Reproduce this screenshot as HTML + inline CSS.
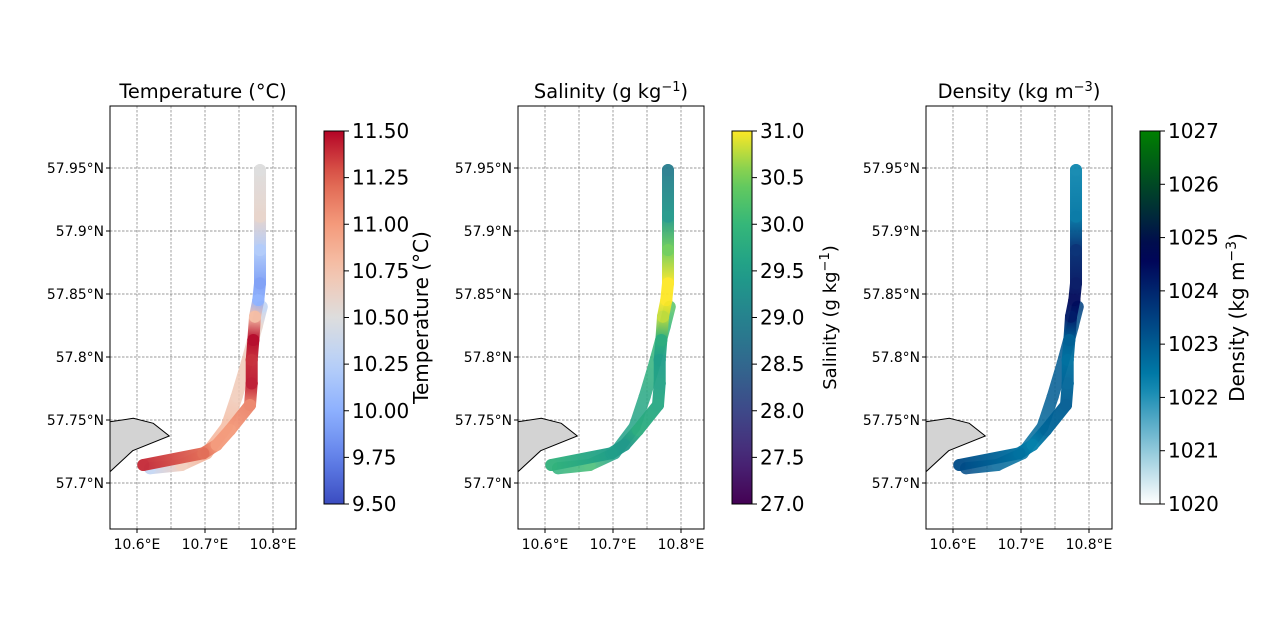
<!DOCTYPE html>
<html><head><meta charset="utf-8"><style>
body{margin:0;background:#fff;}
svg{display:block;font-family:"DejaVu Sans","Liberation Sans",sans-serif;}
</style></head><body>
<svg id="fig" width="1280" height="629" viewBox="0 0 1280 629"></svg>
<script>
// Track vertices (outbound leg A then return leg B)
const lonA=[10.6093,10.6975,10.7172,10.7368,10.7662,10.7687,10.7687,10.7711,10.7735,10.7784,10.7809,10.7809,10.7809,10.7809];
const latA=[57.7143,57.7236,57.7302,57.7421,57.7619,57.7791,57.7976,57.8135,57.8320,57.8452,57.8585,57.8849,57.9114,57.9484];
const lonB=[10.7834,10.7760,10.7613,10.7466,10.7319,10.7025,10.6657,10.6191];
const latB=[57.8399,57.8241,57.7950,57.7685,57.7447,57.7236,57.7143,57.7117];
const tempA=[11.4,11.2,11.0,11.0,11.1,11.45,11.4,11.5,10.8,10.0,9.9,10.2,10.6,10.5];
const tempB=[10.3,10.6,10.7,10.7,10.8,10.9,10.7,10.3];
const salA=[29.9,29.5,29.4,29.8,29.7,29.6,29.5,29.8,30.8,31.0,31.0,30.5,29.4,28.9];
const salB=[30.3,30.0,29.9,29.7,29.6,29.5,30.1,29.9];
const denA=[1023.3,1022.6,1022.3,1022.8,1023.0,1022.8,1022.6,1022.9,1024.2,1024.5,1024.3,1023.9,1022.5,1022.2];
const denB=[1023.5,1023.2,1023.0,1023.0,1022.8,1022.6,1022.8,1023.3];
const latTicks=[57.95,57.9,57.85,57.8,57.75,57.7];
const latTickLabels=["57.95°N","57.9°N","57.85°N","57.8°N","57.75°N","57.7°N"];
const lonTicks=[10.6,10.7,10.8];
const lonTickLabels=["10.6°E","10.7°E","10.8°E"];
const tempTicks=["9.50","9.75","10.00","10.25","10.50","10.75","11.00","11.25","11.50"];
const salTicks=["27.0","27.5","28.0","28.5","29.0","29.5","30.0","30.5","31.0"];
const denTicks=["1020","1021","1022","1023","1024","1025","1026","1027"];

const NS="http://www.w3.org/2000/svg";
const svg=document.getElementById('fig');
function mk(tag,attrs,parent){const e=document.createElementNS(NS,tag);for(const k in attrs)e.setAttribute(k,attrs[k]);(parent||svg).appendChild(e);return e;}
function hex(c){return '#'+c.map(v=>Math.round(Math.max(0,Math.min(1,v))*255).toString(16).padStart(2,'0')).join('');}
function stopsMap(stops){return t=>{t=Math.max(0,Math.min(1,t));for(let i=1;i<stops.length;i++){if(t<=stops[i][0]){const a=stops[i-1],b=stops[i];const f=(t-a[0])/(b[0]-a[0]);return hex([0,1,2].map(j=>(a[1][j]+(b[1][j]-a[1][j])*f)/255));}}return hex(stops[stops.length-1][1].map(v=>v/255));};}
const coolwarm=stopsMap([[0,[59,76,192]],[0.125,[98,130,234]],[0.25,[141,176,254]],[0.375,[184,208,249]],[0.5,[221,221,221]],[0.625,[245,196,173]],[0.75,[244,154,123]],[0.875,[222,96,77]],[1,[180,4,38]]]);
const viridis=stopsMap([[0,[68,1,84]],[0.125,[72,40,120]],[0.25,[62,73,137]],[0.375,[49,104,142]],[0.5,[38,130,142]],[0.625,[31,158,137]],[0.75,[53,183,121]],[0.875,[109,205,89]],[1,[253,231,37]]]);
function oceanR(t){t=Math.max(0,Math.min(1,t));const x=1-t;return hex([Math.max(0,3*x-2),Math.abs((3*x-1)/2),x]);}

const latY=lat=>168+(57.95-lat)*1260;
const panels=[
 {x0:110,title:'Temperature (°C)',label:'Temperature (°C)',ticks:tempTicks,vmin:9.5,vmax:11.5,A:tempA,B:tempB,cmap:coolwarm,name:'temperature'},
 {x0:518,title:'Salinity (g kg<tspan baseline-shift="super" font-size="13">−1</tspan>)',label:'Salinity (g kg<tspan baseline-shift="super" font-size="13">−1</tspan>)',ticks:salTicks,vmin:27,vmax:31,A:salA,B:salB,cmap:viridis,name:'salinity',lsize:18},
 {x0:926,title:'Density (kg m<tspan baseline-shift="super" font-size="13">−3</tspan>)',label:'Density (kg m<tspan baseline-shift="super" font-size="14">−3</tspan>)',ticks:denTicks,vmin:1020,vmax:1027,A:denA,B:denB,cmap:oceanR,name:'density'}
];
const defs=mk('defs',{});
let gid=0;
panels.forEach((p,pi)=>{
 const lonX=lon=>p.x0+27+(lon-10.6)*680;
 const g=mk('g',{});
 
 
 const cp=mk('clipPath',{id:'clip'+pi},defs);mk('rect',{x:p.x0,y:106,width:186,height:423},cp);
 const inner=mk('g',{'clip-path':'url(#clip'+pi+')'},g);
 [10.6,10.65,10.7,10.75,10.8].forEach(l=>{const gl=mk('line',{x1:lonX(l),x2:lonX(l),y1:106,y2:529,stroke:'#777','stroke-width':0.7,'stroke-dasharray':'2.5,1.5'},inner);});
 latTicks.forEach(l=>{const gl=mk('line',{x1:p.x0,x2:p.x0+186,y1:latY(l),y2:latY(l),stroke:'#777','stroke-width':0.7,'stroke-dasharray':'2.5,1.5'},inner);});
 const land=mk('polygon',{points:[[0,421.7],[23.3,418.3],[43.3,423.3],[59.3,436],[22.7,450.7],[0,471.7],[-10,480],[-10,415]].map(q=>(p.x0+q[0])+','+q[1]).join(' '),fill:'#d3d3d3',stroke:'#000','stroke-width':1},inner);
 
 const norm=v=>(v-p.vmin)/(p.vmax-p.vmin);
 function leg(lons,lats,vals,nm,op){
  const lg=mk('g',{opacity:op},inner);
  
  
  for(let i=0;i<lons.length-1;i++){
   const x1=lonX(lons[i]),y1=latY(lats[i]),x2=lonX(lons[i+1]),y2=latY(lats[i+1]);
   const id='gr'+(gid++);
   const gr=mk('linearGradient',{id:id,gradientUnits:'userSpaceOnUse',x1:x1,y1:y1,x2:x2,y2:y2},defs);
   mk('stop',{offset:0,'stop-color':p.cmap(norm(vals[i]))},gr);
   mk('stop',{offset:1,'stop-color':p.cmap(norm(vals[i+1]))},gr);
   const s=mk('line',{x1:x1,y1:y1,x2:x2,y2:y2,stroke:'url(#'+id+')','stroke-width':12,'stroke-linecap':'round'},lg);
   
  }
  for(let i=0;i<lons.length;i++){
   const c=mk('circle',{cx:lonX(lons[i]),cy:latY(lats[i]),r:6,fill:p.cmap(norm(vals[i]))},lg);
   
  }
 }
 leg(lonB,latB,p.B,'return-leg',0.85);
 leg(lonA,latA,p.A,'outbound-leg',0.95);
 const fr=mk('rect',{x:p.x0,y:106,width:186,height:423,fill:'none',stroke:'#000','stroke-width':1},g);
 
 latTicks.forEach((l,i)=>{
  mk('line',{x1:p.x0-4,x2:p.x0,y1:latY(l),y2:latY(l),stroke:'#000'},g);
  const t=mk('text',{x:p.x0-6,y:latY(l)+5,'font-size':13.9,'text-anchor':'end'},g);t.textContent=latTickLabels[i];
  
 });
 lonTicks.forEach((l,i)=>{
  mk('line',{x1:lonX(l),x2:lonX(l),y1:529,y2:533,stroke:'#000'},g);
  const t=mk('text',{x:lonX(l),y:549,'font-size':13.9,'text-anchor':'middle'},g);t.textContent=lonTickLabels[i];
  
 });
 const ti=mk('text',{x:p.x0+93,y:98,'font-size':19.4,'text-anchor':'middle'},g);ti.innerHTML=p.title;
 
 const cx=p.x0+214,ct=131,cb=504;
 const cg=mk('g',{});
 
 const id='cb'+pi;const gr=mk('linearGradient',{id:id,x1:0,y1:1,x2:0,y2:0},defs);
 for(let k=0;k<=20;k++)mk('stop',{offset:k/20,'stop-color':p.cmap(k/20)},gr);
 mk('rect',{x:cx,y:ct,width:20,height:cb-ct,fill:'url(#'+id+')',stroke:'#000','stroke-width':1},cg);
 p.ticks.forEach((tk,i)=>{
  const y=cb-(cb-ct)*i/(p.ticks.length-1);
  mk('line',{x1:cx+20,x2:cx+25,y1:y,y2:y,stroke:'#000'},cg);
  const t=mk('text',{x:cx+28,y:y+7,'font-size':20},cg);t.textContent=tk;
  
 });
 const lx=cx+104,ly=(ct+cb)/2;
 const lb=mk('text',{x:lx,y:ly,'font-size':p.lsize||20,'text-anchor':'middle',transform:'rotate(-90 '+lx+' '+ly+')'},cg);lb.innerHTML=p.label;
 
});
</script>
</body></html>
